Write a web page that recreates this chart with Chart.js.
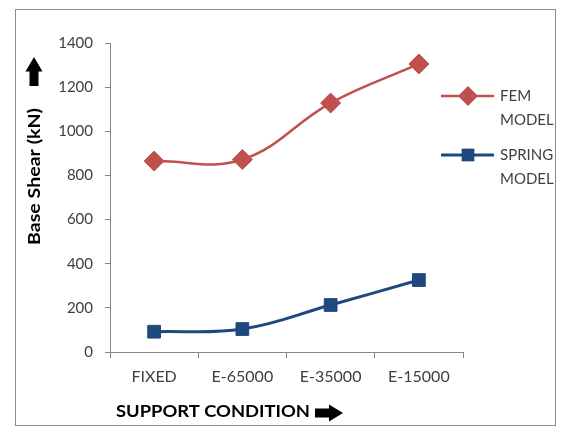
<!DOCTYPE html>
<html>
<head>
<meta charset="utf-8">
<script src="https://cdn.jsdelivr.net/npm/chart.js@4"></script>
<style>
  html, body { margin: 0; padding: 0; background: #fff; }
  #wrap { width: 566px; height: 427px; position: relative; }
</style>
</head>
<body>
<div id="wrap"><canvas id="shearChart"></canvas></div>
<script>
// datos del grafico
const categories = ['FIXED', 'E-65000', 'E-35000', 'E-15000'];
const femModel = [865, 872, 1128, 1305];
const springModel = [92, 104, 213, 326];
const yTicks = [0, 200, 400, 600, 800, 1000, 1200, 1400];

const FONT = 'Lato, "Open Sans", sans-serif';
const TEXT = '#404040';
const AXIS = '#868686';

// flecha gruesa negra (para los titulos de los ejes)
function drawArrow(ctx, x, y, len, dir) {
  ctx.save();
  ctx.translate(x, y);
  if (dir === 'up') ctx.rotate(-Math.PI / 2);
  ctx.fillStyle = '#000';
  ctx.beginPath();
  const head = len * 0.5, hw = 8.5, sw = 4.5;
  ctx.moveTo(0, -sw);
  ctx.lineTo(len - head, -sw);
  ctx.lineTo(len - head, -hw);
  ctx.lineTo(len, 0);
  ctx.lineTo(len - head, hw);
  ctx.lineTo(len - head, sw);
  ctx.lineTo(0, sw);
  ctx.closePath();
  ctx.fill();
  ctx.restore();
}

// texto estirado a un ancho dado (los titulos de la imagen estan estirados)
function drawStretched(ctx, text, x, y, width, angle) {
  ctx.save();
  ctx.font = 'bold 17px ' + FONT;
  const w = ctx.measureText(text).width;
  ctx.translate(x, y);
  ctx.rotate(angle);
  ctx.scale(width / w, 1);
  ctx.fillStyle = '#000';
  ctx.textAlign = 'left';
  ctx.textBaseline = 'middle';
  ctx.fillText(text, 0, 0);
  ctx.restore();
}

const extras = {
  id: 'extras',
  beforeDraw(chart) {
    const ctx = chart.ctx;
    ctx.save();
    ctx.strokeStyle = '#8c8c8c';
    ctx.lineWidth = 1;
    ctx.strokeRect(15.5, 9.5, 540, 416);
    ctx.restore();
  },
  afterDraw(chart) {
    const ctx = chart.ctx;
    const area = chart.chartArea;

    // titulos de ejes y flechas
    drawStretched(ctx, 'Base Shear (kN)', 35, 245, 137, -Math.PI / 2);
    drawArrow(ctx, 34, 86, 29, 'up');
    drawStretched(ctx, 'SUPPORT CONDITION', 116, 412, 194, 0);
    drawArrow(ctx, 315, 413, 28, 'right');

    // leyenda
    ctx.save();
    ctx.font = '15px ' + FONT;
    ctx.textBaseline = 'middle';
    const legendRows = [
      { ds: chart.data.datasets[0], y: 96, lines: ['FEM', 'MODEL'] },
      { ds: chart.data.datasets[1], y: 155, lines: ['SPRING', 'MODEL'] }
    ];
    legendRows.forEach(row => {
      ctx.strokeStyle = row.ds.borderColor;
      ctx.lineWidth = row.ds.borderWidth;
      ctx.beginPath();
      ctx.moveTo(area.right - 22, row.y);
      ctx.lineTo(area.right + 31, row.y);
      ctx.stroke();
      ctx.fillStyle = row.ds.pointBackgroundColor;
      Chart.helpers.drawPoint(ctx, {
        pointStyle: row.ds.pointStyle,
        radius: row.ds.pointRadius,
        borderWidth: 0
      }, area.right + 5, row.y);
      ctx.fillStyle = TEXT;
      row.lines.forEach((t, i) => ctx.fillText(t, area.right + 37, row.y + i * 24));
    });
    ctx.restore();
  }
};

const ctx = document.getElementById('shearChart').getContext('2d');
new Chart(ctx, {
  type: 'line',
  data: {
    labels: categories,
    datasets: [
      {
        label: 'FEM MODEL',
        data: femModel,
        borderColor: '#C0504D',
        borderWidth: 2.5,
        pointStyle: 'rectRot',
        pointRadius: 10,
        pointBackgroundColor: '#C0504D',
        pointBorderColor: '#C0504D',
        pointBorderWidth: 1,
        tension: 0.4
      },
      {
        label: 'SPRING MODEL',
        data: springModel,
        borderColor: '#1F497D',
        borderWidth: 3,
        pointStyle: 'rect',
        pointRadius: 9,
        pointBackgroundColor: '#1F497D',
        pointBorderColor: '#1F497D',
        pointBorderWidth: 1,
        tension: 0.4
      }
    ]
  },
  options: {
    responsive: true,
    maintainAspectRatio: false,
    animation: false,
    layout: { padding: { left: 24, right: 103, top: 43, bottom: 0 } },
    plugins: {
      legend: { display: false },
      tooltip: { enabled: false }
    },
    scales: {
      x: {
        offset: true,
        grid: { offset: true, drawOnChartArea: false, color: AXIS, tickLength: 6 },
        border: { color: AXIS },
        ticks: { color: TEXT, font: { family: FONT, size: 16 }, padding: 9, maxRotation: 0 },
        afterFit(scale) { scale.height = 75; }
      },
      y: {
        min: 0,
        max: 1400,
        afterBuildTicks(scale) { scale.ticks = yTicks.map(v => ({ value: v })); },
        grid: { drawOnChartArea: false, color: AXIS, tickLength: 5 },
        border: { color: AXIS },
        ticks: {
          color: TEXT,
          font: { family: FONT, size: 15 },
          padding: 12,
          callback: v => String(v)
        },
        afterFit(scale) { scale.width = 86; }
      }
    }
  },
  plugins: [extras]
});
</script>
</body>
</html>
